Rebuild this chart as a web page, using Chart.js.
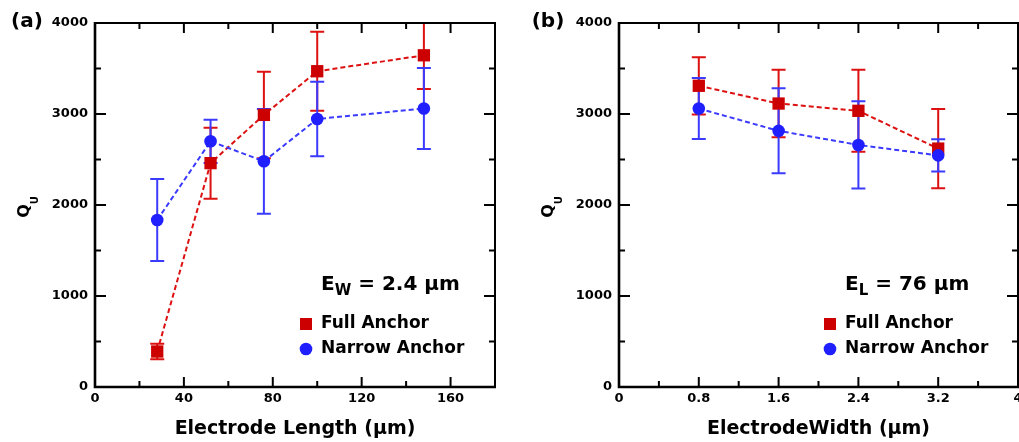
<!DOCTYPE html>
<html>
<head>
<meta charset="utf-8">
<script src="https://cdn.jsdelivr.net/npm/chart.js@4.4.0/dist/chart.umd.min.js"></script>
<style>
  html, body { margin: 0; padding: 0; background: #fff; overflow: hidden; }
  #wrap { position: relative; width: 1019px; height: 442px; overflow: hidden; }
  .panel { position: absolute; top: 0; height: 442px; }
  #pa { left: 0; width: 510px; }
  #pb { left: 519px; width: 520px; }
</style>
</head>
<body>
<div id="wrap">
  <div class="panel" id="pa"><canvas id="chartA" width="510" height="442"></canvas></div>
  <div class="panel" id="pb"><canvas id="chartB" width="520" height="442"></canvas></div>
</div>
<script>
/*global Chart*/

// panel (a): Q vs electrode length, E_W = 2.4 um
const lengthA = [28, 52, 76, 100, 148];
const fullA = [390, 2460, 2990, 3470, 3645];
const fullAErr = [85, 390, 475, 435, 370];
const narrowA = [1835, 2700, 2480, 2945, 3060];
const narrowAErr = [450, 238, 575, 410, 445];
const xTicksA = [0, 40, 80, 120, 160];

// panel (b): Q vs electrode width, E_L = 76 um
const widthB = [0.8, 1.6, 2.4, 3.2];
const fullB = [3310, 3115, 3035, 2620];
const fullBErr = [315, 370, 450, 435];
const narrowB = [3060, 2815, 2660, 2545];
const narrowBErr = [335, 467, 480, 178];
const xTicksB = [0, 0.8, 1.6, 2.4, 3.2, 4];
const xLabelsB = ["0", "0.8", "1.6", "2.4", "3.2", "4"];

const yTicks = [0, 1000, 2000, 3000, 4000];
const seriesNames = ["Full Anchor", "Narrow Anchor"];

const RED = "#cc0000";
const RED_LINE = "#dd1111";
const BLUE = "#1f1fff";
const BLUE_LINE = "#3b3bff";
const FONT = "'DejaVu Sans', sans-serif";

function pts(xs, ys) {
  return xs.map((x, i) => ({ x: x, y: ys[i] }));
}

// error bars, frame with inward ticks, legend and text notes
const panelDecor = {
  id: "panelDecor",
  beforeDatasetsDraw(chart) {
    const { ctx, chartArea: a, scales } = chart;
    ctx.save();
    ctx.beginPath();
    ctx.rect(a.left, a.top, a.right - a.left, a.bottom - a.top);
    ctx.clip();
    chart.data.datasets.forEach((ds) => {
      ctx.strokeStyle = ds.barColor;
      ctx.lineWidth = 2;
      ds.data.forEach((p, i) => {
        const px = scales.x.getPixelForValue(p.x);
        const yHi = scales.y.getPixelForValue(p.y + ds.errors[i]);
        const yLo = scales.y.getPixelForValue(p.y - ds.errors[i]);
        ctx.beginPath();
        ctx.moveTo(px, yLo);
        ctx.lineTo(px, yHi);
        ctx.moveTo(px - 7, yLo);
        ctx.lineTo(px + 7, yLo);
        ctx.moveTo(px - 7, yHi);
        ctx.lineTo(px + 7, yHi);
        ctx.stroke();
      });
    });
    ctx.restore();
  },
  afterDraw(chart, args, opts) {
    const { ctx, chartArea: a, scales } = chart;
    const x = scales.x;
    const y = scales.y;
    ctx.save();
    ctx.strokeStyle = "#000";
    ctx.lineCap = "butt";

    // ticks, all pointing inward
    ctx.lineWidth = 2;
    const xMajor = x.ticks.map((t) => t.value);
    for (let v = x.min; v <= x.max + 1e-9; v += opts.minorX) {
      const isMajor = xMajor.some((m) => Math.abs(m - v) < 1e-6);
      const len = isMajor ? 10 : 6;
      const px = x.getPixelForValue(v);
      if (px <= a.left + 1 || px >= a.right - 1) continue;
      ctx.beginPath();
      ctx.moveTo(px, a.bottom);
      ctx.lineTo(px, a.bottom - len);
      ctx.moveTo(px, a.top);
      ctx.lineTo(px, a.top + len);
      ctx.stroke();
    }
    const yMajor = y.ticks.map((t) => t.value);
    for (let v = y.min; v <= y.max + 1e-9; v += opts.minorY) {
      const isMajor = yMajor.some((m) => Math.abs(m - v) < 1e-6);
      const len = isMajor ? 11 : 6;
      const py = y.getPixelForValue(v);
      if (py <= a.top + 1 || py >= a.bottom - 1) continue;
      ctx.beginPath();
      ctx.moveTo(a.left, py);
      ctx.lineTo(a.left + len, py);
      ctx.moveTo(a.right, py);
      ctx.lineTo(a.right - len, py);
      ctx.stroke();
    }

    // frame
    ctx.lineWidth = 2;
    ctx.beginPath();
    ctx.moveTo(a.left, a.top);
    ctx.lineTo(a.right, a.top);
    ctx.lineTo(a.right, a.bottom);
    ctx.stroke();
    ctx.lineWidth = 2.6;
    ctx.beginPath();
    ctx.moveTo(a.left, a.top - 1);
    ctx.lineTo(a.left, a.bottom);
    ctx.lineTo(a.right + 1, a.bottom);
    ctx.stroke();

    // legend
    ctx.textBaseline = "middle";
    ctx.textAlign = "left";
    ctx.font = "bold 17px " + FONT;
    const lx = a.left + 211;
    const r1 = a.top + 301;
    const r2 = a.top + 326;
    ctx.fillStyle = RED;
    ctx.fillRect(lx - 6, r1 - 6, 12, 12);
    ctx.fillStyle = BLUE;
    ctx.beginPath();
    ctx.arc(lx, r2, 6.3, 0, Math.PI * 2);
    ctx.fill();
    ctx.fillStyle = "#000";
    ctx.fillText(seriesNames[0], a.left + 226, r1);
    ctx.fillText(seriesNames[1], a.left + 226, r2);

    // condition note
    let nx = a.left + 226;
    const ny = a.top + 262;
    ctx.font = "bold 20px " + FONT;
    ctx.fillText("E", nx, ny);
    nx += ctx.measureText("E").width;
    ctx.font = "bold 15px " + FONT;
    ctx.fillText(opts.noteSub, nx, ny + 6);
    nx += ctx.measureText(opts.noteSub).width;
    ctx.font = "bold 20px " + FONT;
    ctx.fillText(opts.noteRest, nx, ny);

    // panel label
    ctx.textAlign = "center";
    ctx.font = "bold 20px " + FONT;
    ctx.fillText(opts.panel, opts.panelX, 22);

    // y axis title Q_U
    ctx.translate(a.left - 70, (a.top + a.bottom) / 2);
    ctx.rotate(-Math.PI / 2);
    ctx.font = "bold 16px " + FONT;
    const wq = ctx.measureText("Q").width;
    ctx.font = "bold 10px " + FONT;
    const wu = ctx.measureText("U").width;
    const sx = -(wq + wu) / 2 - 2;
    ctx.textAlign = "left";
    ctx.font = "bold 16px " + FONT;
    ctx.fillText("Q", sx, 0);
    ctx.font = "bold 10px " + FONT;
    ctx.fillText("U", sx + wq, 10);
    ctx.restore();
  },
};

function makeChart(id, cfg) {
  const ctx = document.getElementById(id).getContext("2d");
  return new Chart(ctx, {
    type: "line",
    plugins: [panelDecor],
    data: {
      datasets: [
        {
          label: seriesNames[0],
          data: pts(cfg.xs, cfg.full),
          errors: cfg.fullErr,
          barColor: RED_LINE,
          order: 2,
          borderColor: RED_LINE,
          borderWidth: 2,
          borderDash: [5, 3],
          pointStyle: "rect",
          pointRadius: 8.7,
          pointBackgroundColor: RED,
          pointBorderWidth: 0,
          tension: 0,
        },
        {
          label: seriesNames[1],
          data: pts(cfg.xs, cfg.narrow),
          errors: cfg.narrowErr,
          barColor: BLUE_LINE,
          order: 1,
          borderColor: BLUE_LINE,
          borderWidth: 2,
          borderDash: [5, 3],
          pointStyle: "circle",
          pointRadius: 6.3,
          pointBackgroundColor: BLUE,
          pointBorderWidth: 0,
          tension: 0,
        },
      ],
    },
    options: {
      responsive: false,
      animation: false,
      layout: {
        padding: { top: 23, right: cfg.padRight, bottom: 0, left: 0 },
      },
      scales: {
        x: {
          type: "linear",
          min: 0,
          max: cfg.xMax,
          grid: { display: false, drawTicks: false },
          border: { display: false },
          afterBuildTicks: (scale) => {
            scale.ticks = cfg.xTicks.map((v) => ({ value: v }));
          },
          afterFit: (scale) => {
            scale.height = 55;
            scale.paddingLeft = 0;
            scale.paddingRight = 0;
          },
          ticks: {
            color: "#000",
            padding: 4,
            maxRotation: 0,
            autoSkip: false,
            font: { family: FONT, weight: "bold", size: 13 },
            callback: (v) => cfg.xLabel(v),
          },
          title: {
            display: true,
            text: cfg.xTitle,
            color: "#000",
            padding: { top: 0, bottom: 2 },
            font: { family: FONT, weight: "bold", size: 19 },
          },
        },
        y: {
          type: "linear",
          min: 0,
          max: 4000,
          grid: { display: false, drawTicks: false },
          border: { display: false },
          afterBuildTicks: (scale) => {
            scale.ticks = yTicks.map((v) => ({ value: v }));
          },
          afterFit: (scale) => {
            scale.width = cfg.yWidth;
            scale.paddingTop = 0;
            scale.paddingBottom = 0;
          },
          ticks: {
            color: "#000",
            padding: 7,
            font: { family: FONT, weight: "bold", size: 13 },
            callback: (v) => String(v),
          },
        },
      },
      plugins: {
        legend: { display: false },
        tooltip: { enabled: false },
        panelDecor: {
          minorX: cfg.minorX,
          minorY: 500,
          panel: cfg.panel,
          panelX: cfg.panelX,
          noteSub: cfg.noteSub,
          noteRest: cfg.noteRest,
        },
      },
    },
  });
}

makeChart("chartA", {
  xs: lengthA,
  full: fullA,
  fullErr: fullAErr,
  narrow: narrowA,
  narrowErr: narrowAErr,
  xMax: 180,
  xTicks: xTicksA,
  xLabel: (v) => String(v),
  xTitle: "Electrode Length (\u03bcm)",
  minorX: 20,
  yWidth: 95,
  padRight: 15,
  panel: "(a)",
  panelX: 27,
  noteSub: "W",
  noteRest: " = 2.4 \u03bcm",
});

makeChart("chartB", {
  xs: widthB,
  full: fullB,
  fullErr: fullBErr,
  narrow: narrowB,
  narrowErr: narrowBErr,
  xMax: 4,
  xTicks: xTicksB,
  xLabel: (v) => xLabelsB[xTicksB.findIndex((t) => Math.abs(t - v) < 1e-6)],
  xTitle: "ElectrodeWidth (\u03bcm)",
  minorX: 0.4,
  yWidth: 100,
  padRight: 21,
  panel: "(b)",
  panelX: 29,
  noteSub: "L",
  noteRest: " = 76 \u03bcm",
});
</script>
</body>
</html>
